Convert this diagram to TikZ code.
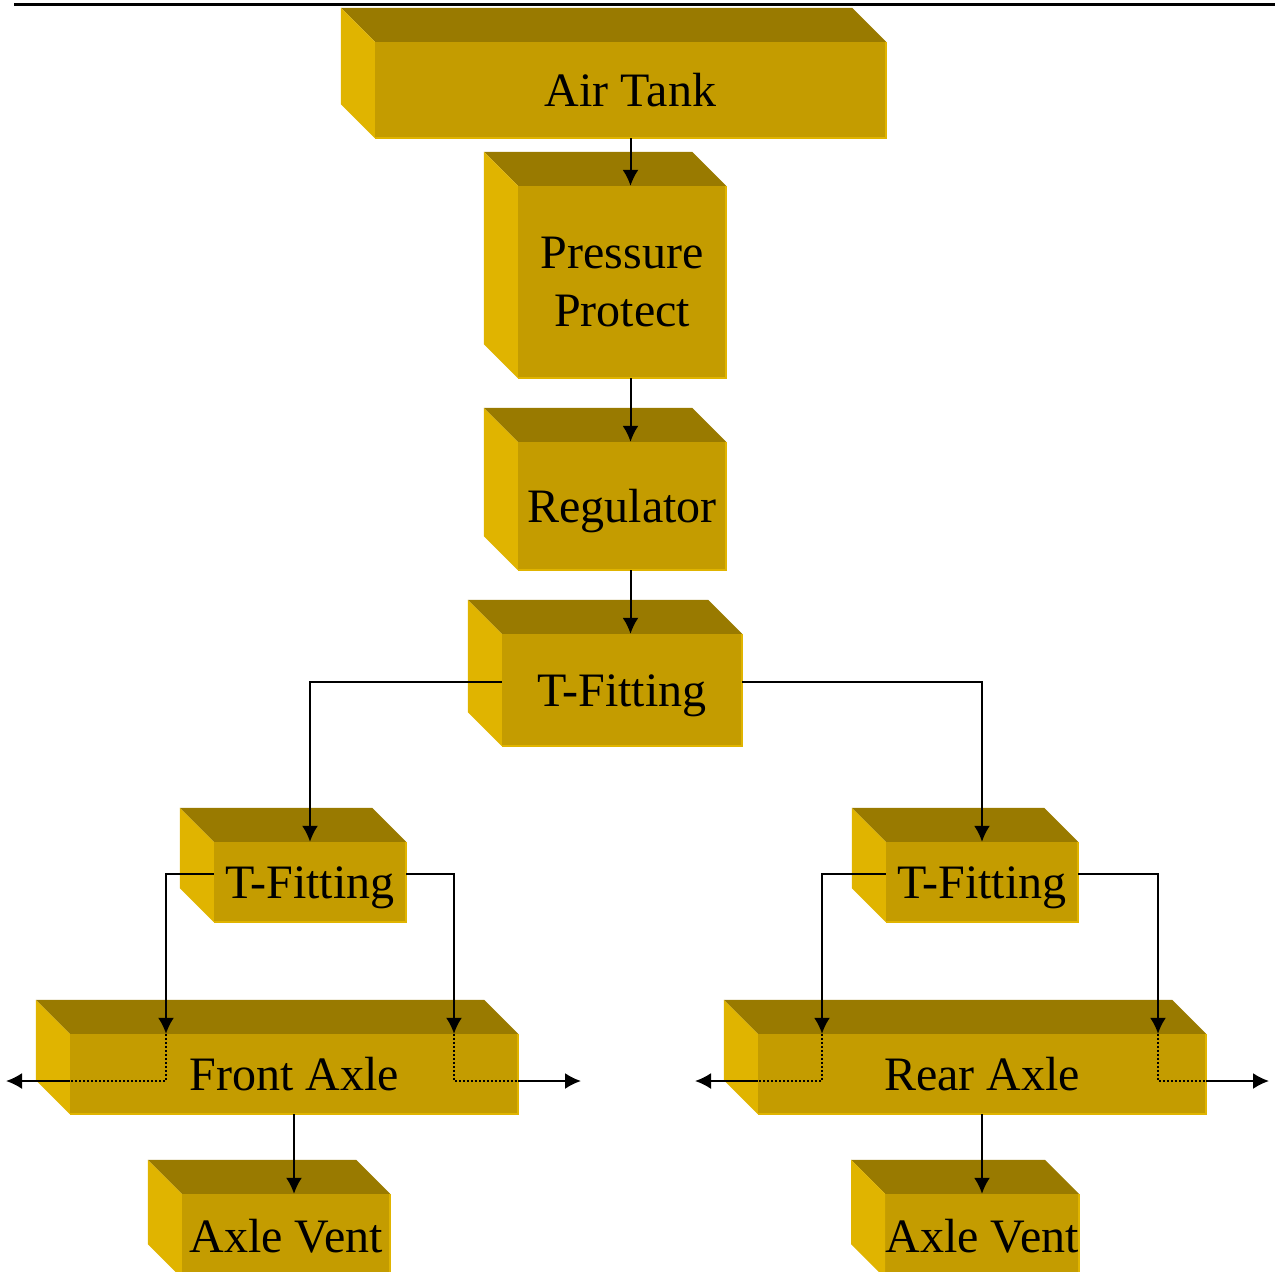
\documentclass[tikz,border=0pt]{standalone}
\usepackage{fontspec}
\setmainfont{Liberation Serif}
\usetikzlibrary{arrows.meta,calc}
\definecolor{frontc}{RGB}{196,156,0}
\definecolor{topc}{RGB}{153,122,0}
\definecolor{leftc}{RGB}{224,180,0}
\tikzset{
  front/.style={fill=frontc, inner sep=0pt, font=\fontsize{48}{58}\selectfont, align=center},
  oneline/.style={text height=32pt, text depth=0pt},
  twoline/.style={},
  conn/.style={line width=2pt, black},
  arr/.style={conn, -{Latex[length=16pt,width=16pt]}},
  dots/.style={line width=2pt, black, dash pattern=on 2pt off 2pt},
}
% #1 style, #2 name, #3 x0, #4 y0 (front top-left), #5 x1, #6 y1, #7 text
\newcommand{\mybox}[7]{%
  \node[front, #1, minimum width={(#5-#3)*1pt}, minimum height={(#6-#4)*1pt}] (#2) at ({(#3+#5)/2},{(#4+#6)/2}) {#7};
  \fill[topc] ($(#2.north west)+(-34,-34)$) -- ($(#2.north east)+(-34,-34)$) -- (#2.north east) -- (#2.north west) -- cycle;
  \fill[leftc] ($(#2.north west)+(-34,-34)$) -- (#2.north west) -- (#2.south west) -- ($(#2.south west)+(-34,-34)$) -- cycle;
  \draw[leftc, line width=1.5pt] (#2.north east) -- (#2.south east) -- (#2.south west);
}
\begin{document}
\begin{tikzpicture}[x=1pt,y=-1pt]
\useasboundingbox (0,0) rectangle (1275,1272);
\draw[line width=3pt, black] (14,4) -- (1275,4);
\mybox{oneline}{air}{375}{42}{886}{138}{Air Tank}
\mybox{twoline}{pp}{518}{186}{726}{378}{Pressure\\Protect}
\mybox{oneline}{reg}{518}{442}{726}{570}{Regulator}
\mybox{oneline}{tf}{502}{634}{742}{746}{T-Fitting}
\mybox{oneline}{tfa}{214}{842}{406}{922}{T-Fitting}
\mybox{oneline}{tfb}{886}{842}{1078}{922}{T-Fitting}
\mybox{oneline}{fa}{70}{1034}{518}{1114}{Front Axle}
\mybox{oneline}{ra}{758}{1034}{1206}{1114}{Rear Axle}
\mybox{oneline}{va}{182}{1194}{390}{1278}{Axle Vent}
\mybox{oneline}{vb}{886}{1194}{1078}{1278}{Axle Vent}
% vertical chain
\draw[arr] (air.south) -- (air.south |- pp.north);
\draw[arr] (air.south |- pp.south) -- (air.south |- reg.north);
\draw[arr] (air.south |- reg.south) -- (air.south |- tf.north);
% main T branches
\draw[arr] ($(tf.west)+(0,-8)$) -| (tfa.north);
\draw[arr] ($(tf.east)+(0,-8)$) -| (tfb.north);
% outlet coordinates
\coordinate (fl) at (166,1081);
\coordinate (fr) at (454,1081);
\coordinate (rl) at (822,1081);
\coordinate (rr) at (1158,1081);
\coordinate (flend) at (6,1081);
\coordinate (frend) at (581,1081);
\coordinate (rlend) at (695,1081);
\coordinate (rrend) at (1269,1081);
% left T
\draw[arr] ($(tfa.west)+(0,-8)$) -| (fl |- fa.north);
\draw[arr] ($(tfa.east)+(0,-8)$) -| (fr |- fa.north);
\draw[dots] (fl |- fa.north) -- (fl) -- (fl -| fa.west);
\draw[dots] (fr |- fa.north) -- (fr) -- (fr -| fa.east);
\draw[arr] (fl -| fa.west) -- (flend);
\draw[arr] (fr -| fa.east) -- (frend);
% right T
\draw[arr] ($(tfb.west)+(0,-8)$) -| (rl |- ra.north);
\draw[arr] ($(tfb.east)+(0,-8)$) -| (rr |- ra.north);
\draw[dots] (rl |- ra.north) -- (rl) -- (rl -| ra.west);
\draw[dots] (rr |- ra.north) -- (rr) -- (rr -| ra.east);
\draw[arr] (rl -| ra.west) -- (rlend);
\draw[arr] (rr -| ra.east) -- (rrend);
% vents
\draw[arr] (fa.south) -- (fa.south |- va.north);
\draw[arr] (ra.south) -- (ra.south |- vb.north);
\end{tikzpicture}
\end{document}
